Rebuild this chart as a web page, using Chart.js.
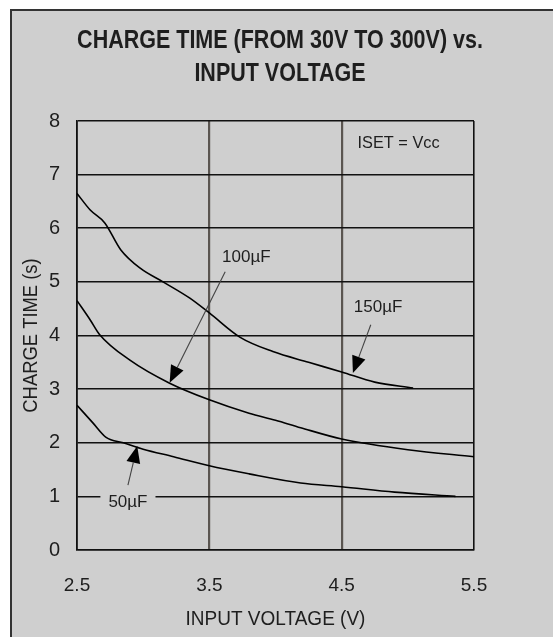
<!DOCTYPE html>
<html>
<head>
<meta charset="utf-8">
<title>Charge Time vs Input Voltage</title>
<script src="https://cdn.jsdelivr.net/npm/chart.js@4.4.1/dist/chart.umd.min.js"></script>
<style>
  html, body { margin: 0; padding: 0; background: #fff; }
  canvas { display: block; }
</style>
</head>
<body>
<canvas id="chargeChart" width="553" height="637"></canvas>
<script>
// tick labels
const xTicks = [2.5, 3.5, 4.5, 5.5];
const yTicks = [0, 1, 2, 3, 4, 5, 6, 7, 8];

// 150uF curve
const x150 = [2.5, 2.6, 2.71, 2.83, 2.98, 3.15, 3.35, 3.5, 3.73, 3.98, 4.25, 4.5, 4.75, 5.04];
const y150 = [6.65, 6.34, 6.1, 5.6, 5.25, 5.0, 4.7, 4.42, 3.97, 3.7, 3.5, 3.32, 3.13, 3.02];

// 100uF curve
const x100 = [2.5, 2.6, 2.67, 2.9, 3.2, 3.5, 3.8, 4.0, 4.19, 4.5, 5.0, 5.5];
const y100 = [4.65, 4.29, 4.02, 3.54, 3.11, 2.8, 2.55, 2.42, 2.28, 2.07, 1.87, 1.74];

// 50uF curve
const x50 = [2.5, 2.62, 2.72, 2.85, 3.0, 3.23, 3.5, 3.8, 4.19, 4.5, 4.9, 5.36];
const y50 = [2.7, 2.37, 2.1, 2.0, 1.88, 1.74, 1.57, 1.42, 1.25, 1.18, 1.08, 1.0];

const seriesNames = ['150\u00b5F', '100\u00b5F', '50\u00b5F'];

// callouts, in data units: label centre, arrow tail, arrow tip
const callouts = [
    { text: seriesNames[1], lx: 3.78, ly: 5.45, fx: 3.62, fy: 5.19, tx: 3.20, ty: 3.12, box: false },
    { text: seriesNames[0], lx: 4.775, ly: 4.53, fx: 4.72, fy: 4.2, tx: 4.585, ty: 3.30, box: false },
    { text: seriesNames[2], lx: 2.885, ly: 0.88, fx: 2.885, fy: 1.21, tx: 2.955, ty: 1.94, box: true }
];

const FONT = '"Liberation Sans", Arial, sans-serif';
const BG = '#cfcfcf';
const INK = '#1e1e1e';

function toPoints(xs, ys) {
    return xs.map((x, i) => ({ x: x, y: ys[i] }));
}

function curve(label, xs, ys) {
    return {
        label: label,
        data: toPoints(xs, ys),
        borderColor: '#000',
        borderWidth: 1.6,
        pointRadius: 0,
        fill: false,
        cubicInterpolationMode: 'monotone'
    };
}

// narrow text: squeeze horizontally around the anchor point
function squeezed(c, text, x, y, sx, rot) {
    c.save();
    c.translate(x, y);
    if (rot) c.rotate(rot);
    c.scale(sx, 1);
    c.fillText(text, 0, 0);
    c.restore();
}

// frame, titles and callouts
const decorPlugin = {
    id: 'decor',
    beforeDraw(chart) {
        const c = chart.ctx;
        c.save();
        c.fillStyle = '#fff';
        c.fillRect(0, 0, chart.width, chart.height);
        c.fillStyle = BG;
        c.fillRect(11, 10, chart.width, chart.height);
        c.strokeStyle = '#333';
        c.lineWidth = 2;
        c.beginPath();
        c.moveTo(11, chart.height + 5);
        c.lineTo(11, 10);
        c.lineTo(chart.width + 5, 10);
        c.stroke();
        c.restore();
    },
    afterDraw(chart) {
        const c = chart.ctx;
        const xs = chart.scales.x;
        const ys = chart.scales.y;
        const area = chart.chartArea;
        c.save();
        c.fillStyle = INK;
        c.textAlign = 'center';
        c.textBaseline = 'middle';

        // title
        c.font = 'bold 25px ' + FONT;
        squeezed(c, 'CHARGE TIME (FROM 30V TO 300V) vs.', 280, 41, 0.86);
        squeezed(c, 'INPUT VOLTAGE', 280, 74, 0.86);

        // axis titles
        c.font = '20px ' + FONT;
        squeezed(c, 'INPUT VOLTAGE (V)', (area.left + area.right) / 2, 619, 0.95);
        squeezed(c, 'CHARGE TIME (s)', 31, (area.top + area.bottom) / 2, 0.92, -Math.PI / 2);

        // condition note
        c.font = '17px ' + FONT;
        c.textAlign = 'left';
        squeezed(c, 'ISET = Vcc', xs.getPixelForValue(4.62), ys.getPixelForValue(7.59), 0.96);

        // callouts
        c.textAlign = 'center';
        callouts.forEach(o => {
            const lx = xs.getPixelForValue(o.lx), ly = ys.getPixelForValue(o.ly);
            const fx = xs.getPixelForValue(o.fx), fy = ys.getPixelForValue(o.fy);
            const tx = xs.getPixelForValue(o.tx), ty = ys.getPixelForValue(o.ty);
            c.font = '17px ' + FONT;
            if (o.box) {
                const w = c.measureText(o.text).width;
                c.fillStyle = BG;
                c.fillRect(lx - w / 2 - 8, ly - 9, w + 16, 18);
            }
            c.fillStyle = INK;
            c.fillText(o.text, lx, ly);

            const ang = Math.atan2(ty - fy, tx - fx);
            const headLen = 17, headW = 7;
            const bx = tx - headLen * Math.cos(ang), by = ty - headLen * Math.sin(ang);
            c.strokeStyle = '#444';
            c.lineWidth = 1.1;
            c.beginPath();
            c.moveTo(fx, fy);
            c.lineTo(bx, by);
            c.stroke();
            c.fillStyle = '#000';
            c.beginPath();
            c.moveTo(tx, ty);
            c.lineTo(bx + headW * Math.sin(ang), by - headW * Math.cos(ang));
            c.lineTo(bx - headW * Math.sin(ang), by + headW * Math.cos(ang));
            c.closePath();
            c.fill();
        });
        c.restore();
    }
};

const ctx = document.getElementById('chargeChart');
const chart = new Chart(ctx, {
    type: 'line',
    data: {
        datasets: [
            curve(seriesNames[0], x150, y150),
            curve(seriesNames[1], x100, y100),
            curve(seriesNames[2], x50, y50)
        ]
    },
    options: {
        responsive: false,
        animation: false,
        layout: { padding: { top: 121, left: 0, right: 79, bottom: 0 } },
        plugins: {
            legend: { display: false },
            title: { display: false },
            tooltip: { enabled: false }
        },
        scales: {
            x: {
                type: 'linear',
                min: 2.5,
                max: 5.5,
                afterBuildTicks: scale => { scale.ticks = xTicks.map(v => ({ value: v })); },
                afterFit: scale => { scale.height = 87; },
                ticks: {
                    padding: 24,
                    color: INK,
                    font: { family: FONT, size: 19 },
                    callback: v => Number(v).toFixed(1)
                },
                grid: {
                    drawTicks: false,
                    lineWidth: ctx => (ctx.tick && (ctx.tick.value === 3.5 || ctx.tick.value === 4.5)) ? 2.2 : 1.6,
                    color: ctx => (ctx.tick && (ctx.tick.value === 3.5 || ctx.tick.value === 4.5)) ? '#5a5550' : '#111'
                },
                border: { color: '#111', width: 1.6 }
            },
            y: {
                min: 0,
                max: 8,
                afterBuildTicks: scale => { scale.ticks = yTicks.map(v => ({ value: v })); },
                afterFit: scale => { scale.width = 77; },
                ticks: {
                    padding: 17,
                    color: INK,
                    font: { family: FONT, size: 20 }
                },
                grid: { drawTicks: false, color: '#111', lineWidth: 1.6 },
                border: { color: '#111', width: 1.6 }
            }
        }
    },
    plugins: [decorPlugin]
});
</script>
</body>
</html>
